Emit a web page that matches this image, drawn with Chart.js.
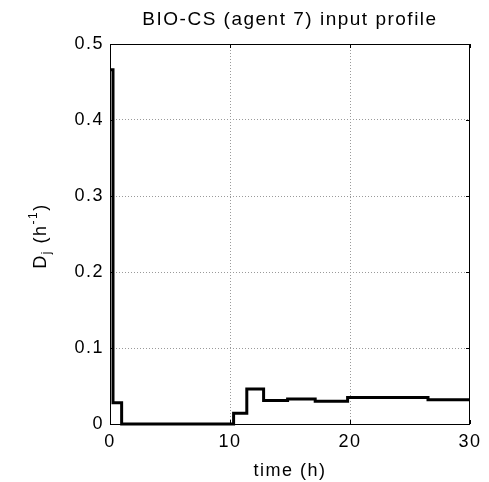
<!DOCTYPE html>
<html>
<head>
<meta charset="utf-8">
<script src="https://cdn.jsdelivr.net/npm/chart.js@4.4.0/dist/chart.umd.min.js"></script>
<style>
  html, body { margin: 0; padding: 0; background: #fff; }
  #wrap { width: 489px; height: 482px; }
</style>
</head>
<body>
<div id="wrap"><canvas id="profileChart" width="489" height="482"></canvas></div>
<script>
// step profile D_j(t)
const times = [0, 0.25, 0.97, 10.3, 11.4, 12.8, 14.8, 17.1, 19.8, 26.5, 30];
const rates = [0.466, 0.028, 0, 0.014, 0.046, 0.031, 0.033, 0.030, 0.035, 0.032, 0.032];

const xTicks = [0, 10, 20, 30];
const yTicks = [0, 0.1, 0.2, 0.3, 0.4, 0.5];

const FONT = "'Liberation Sans', Arial, sans-serif";
const SPACING = '1.5px';

const points = times.map((t, i) => ({ x: t, y: rates[i] }));

// wider text spacing, like the original export
const spacing = {
    id: 'spacing',
    beforeLayout(chart) { chart.ctx.letterSpacing = SPACING; },
    beforeDraw(chart) { chart.ctx.letterSpacing = SPACING; }
};

// box round the plot + y label with sub/superscript
const matlabLook = {
    id: 'matlabLook',
    afterDraw(chart) {
        const { ctx, chartArea: a } = chart;
        ctx.save();
        ctx.strokeStyle = '#000';
        ctx.lineWidth = 1;
        ctx.strokeRect(a.left + 0.5, a.top + 0.5, a.right - a.left - 1, a.bottom - a.top);

        // small inward ticks
        const xs = chart.scales.x, ys = chart.scales.y;
        ctx.beginPath();
        xTicks.forEach(v => {
            const px = Math.round(xs.getPixelForValue(v)) + 0.5;
            ctx.moveTo(px, a.bottom); ctx.lineTo(px, a.bottom - 4);
            ctx.moveTo(px, a.top); ctx.lineTo(px, a.top + 4);
        });
        yTicks.forEach(v => {
            const py = Math.round(ys.getPixelForValue(v)) + 0.5;
            ctx.moveTo(a.left, py); ctx.lineTo(a.left + 4, py);
            ctx.moveTo(a.right, py); ctx.lineTo(a.right - 4, py);
        });
        ctx.stroke();

        // y axis label: D_j (h^-1)
        ctx.translate(41, 236);
        ctx.rotate(-Math.PI / 2);
        ctx.fillStyle = '#000';
        ctx.textBaseline = 'middle';
        const big = '18px ' + FONT, small = '12px ' + FONT;
        const parts = [
            { t: 'D', f: big, dy: 0 },
            { t: 'j', f: small, dy: 6 },
            { t: ' (h', f: big, dy: 0 },
            { t: '-1', f: small, dy: -7 },
            { t: ')', f: big, dy: 0 }
        ];
        let w = 0;
        parts.forEach(p => { ctx.font = p.f; w += ctx.measureText(p.t).width; });
        let x = -w / 2;
        parts.forEach(p => {
            ctx.font = p.f;
            ctx.fillText(p.t, x, p.dy);
            x += ctx.measureText(p.t).width;
        });
        ctx.restore();
    }
};

const gridColor = (ctx) => {
    const n = ctx.chart.scales[ctx.scale.id].ticks.length;
    return (ctx.index === 0 || ctx.index === n - 1) ? 'rgba(0,0,0,0)' : '#9a9a9a';
};

const ctx = document.getElementById('profileChart').getContext('2d');
ctx.letterSpacing = SPACING;
const chartInstance = new Chart(ctx, {
    type: 'line',
    data: {
        datasets: [{
            label: 'D_j',
            data: points,
            stepped: true,
            borderColor: '#000',
            borderWidth: 3,
            pointRadius: 0,
            fill: false,
            clip: 4
        }]
    },
    options: {
        responsive: false,
        animation: false,
        layout: { padding: { left: 0, right: 19, top: 0, bottom: 0 } },
        plugins: {
            legend: { display: false },
            tooltip: { enabled: false },
            title: {
                display: true,
                fullSize: false,
                text: 'BIO-CS (agent 7) input profile',
                color: '#000',
                font: { family: FONT, size: 19, weight: 'normal' },
                padding: { top: 8, bottom: 13.2 }
            }
        },
        scales: {
            x: {
                type: 'linear',
                min: 0,
                max: 30,
                afterBuildTicks: (s) => { s.ticks = xTicks.map(v => ({ value: v })); },
                afterFit: (s) => { s.height = 58; },
                ticks: {
                    color: '#000',
                    font: { family: FONT, size: 18 },
                    padding: 7,
                    maxRotation: 0,
                    callback: (v) => String(v)
                },
                grid: { color: gridColor, lineWidth: 1, drawTicks: false },
                border: { display: false, dash: [1, 2] },
                title: {
                    display: true,
                    text: 'time (h)',
                    color: '#000',
                    font: { family: FONT, size: 18 },
                    padding: { top: 3, bottom: 0 }
                }
            },
            y: {
                type: 'linear',
                min: 0,
                max: 0.5,
                afterBuildTicks: (s) => { s.ticks = yTicks.map(v => ({ value: v })); },
                afterFit: (s) => { s.width = 110; },
                ticks: {
                    color: '#000',
                    font: { family: FONT, size: 18 },
                    padding: 6,
                    callback: (v) => String(Math.round(v * 10) / 10)
                },
                grid: { color: gridColor, lineWidth: 1, drawTicks: false },
                border: { display: false, dash: [1, 2] }
            }
        }
    },
    plugins: [spacing, matlabLook]
});
</script>
</body>
</html>
